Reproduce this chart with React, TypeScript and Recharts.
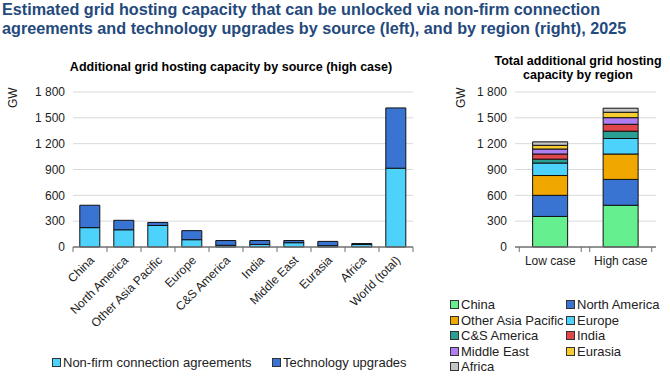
import React from "react";
import { BarChart, Bar, XAxis, YAxis, CartesianGrid } from "recharts";

// Left panel: high case by source
const sourceCategories = [
  "China",
  "North America",
  "Other Asia Pacific",
  "Europe",
  "C&S America",
  "India",
  "Middle East",
  "Eurasia",
  "Africa",
  "World (total)",
];
const nonFirm = [225, 200, 250, 85, 20, 30, 50, 15, 30, 915];
const techUpgrades = [260, 110, 35, 105, 55, 45, 25, 50, 10, 700];

// Right panel: totals by region
const cases = ["Low case", "High case"];
const regions = [
  "China",
  "North America",
  "Other Asia Pacific",
  "Europe",
  "C&S America",
  "India",
  "Middle East",
  "Eurasia",
  "Africa",
];
const lowCase = [355, 245, 230, 145, 45, 60, 58, 43, 40];
const highCase = [485, 300, 295, 180, 85, 80, 77, 63, 47];

const yTicks = [0, 300, 600, 900, 1200, 1500, 1800];

const NF_COLOR = "#4dd2fb";
const TU_COLOR = "#3a74d2";
const regionColors = [
  "#66ef8f",
  "#3a74d2",
  "#f0a800",
  "#4dd2fb",
  "#2a9f93",
  "#e0464a",
  "#b07ef0",
  "#f7cc2e",
  "#c4c4c4",
];

const FONT = "'Liberation Sans', Arial, sans-serif";
const AXIS = "#6f6f6f";

const sourceData = sourceCategories.map((name, i) => ({
  name,
  nonFirm: nonFirm[i],
  tech: techUpgrades[i],
}));

const caseData = cases.map((name, i) => {
  const row: Record<string, string | number> = { name };
  const vals = i === 0 ? lowCase : highCase;
  regions.forEach((r, j) => (row[r] = vals[j]));
  return row;
});

const fmt = (v: number) => (v >= 1000 ? `${Math.floor(v / 1000)} ${String(v % 1000).padStart(3, "0")}` : `${v}`);

const SourceTick = (props: any) => {
  const { x, y, payload, index } = props;
  const half = 17;
  return (
    <g>
      <line x1={x - half} x2={x - half} y1={y - 8} y2={y - 3} stroke={AXIS} />
      {index === sourceCategories.length - 1 && (
        <line x1={x + half} x2={x + half} y1={y - 8} y2={y - 3} stroke={AXIS} />
      )}
      <text
        x={x + 5}
        y={y + 6}
        textAnchor="end"
        fontSize={12}
        fill="#222"
        fontFamily={FONT}
        transform={`rotate(-45 ${x + 5} ${y + 6})`}
      >
        {payload.value}
      </text>
    </g>
  );
};

const CaseTick = (props: any) => {
  const { x, y, payload } = props;
  const half = 31;
  return (
    <g>
      <line x1={x - half} x2={x - half} y1={y - 8} y2={y - 3} stroke={AXIS} />
      <line x1={x + half} x2={x + half} y1={y - 8} y2={y - 3} stroke={AXIS} />
      <text x={x} y={y + 10} textAnchor="middle" fontSize={12} fill="#222" fontFamily={FONT}>
        {payload.value}
      </text>
    </g>
  );
};

const Swatch = ({ color }: { color: string }) => (
  <span
    style={{
      display: "inline-block",
      width: 7,
      height: 7,
      background: color,
      border: "1px solid #333",
      marginRight: 2,
      verticalAlign: "middle",
      position: "relative",
      top: -1,
    }}
  />
);

const legendItem = (label: string, color: string, left: number, top: number) => (
  <div
    key={label}
    style={{ position: "absolute", left, top, fontSize: 13, color: "#222", whiteSpace: "nowrap", lineHeight: "15px" }}
  >
    <Swatch color={color} />
    {label}
  </div>
);

export default function App() {
  return (
    <div
      style={{
        position: "absolute",
        left: 0,
        top: 0,
        width: 670,
        height: 377,
        background: "#fff",
        fontFamily: FONT,
        overflow: "hidden",
      }}
    >
      <div
        style={{
          position: "absolute",
          left: 2,
          top: 0,
          fontSize: 16.2,
          fontWeight: "bold",
          color: "#24497c",
          lineHeight: "19px",
          whiteSpace: "nowrap",
        }}
      >
        Estimated grid hosting capacity that can be unlocked via non-firm connection
        <br />
        agreements and technology upgrades by source (left), and by region (right), 2025
      </div>

      <div
        style={{
          position: "absolute",
          left: 0,
          width: 462,
          top: 60,
          textAlign: "center",
          fontSize: 12.5,
          fontWeight: "bold",
          color: "#000",
          lineHeight: "15px",
          whiteSpace: "nowrap",
        }}
      >
        Additional grid hosting capacity by source (high case)
      </div>

      <div
        style={{
          position: "absolute",
          left: 478,
          width: 200,
          top: 54,
          textAlign: "center",
          fontSize: 12.5,
          fontWeight: "bold",
          color: "#000",
          lineHeight: "14px",
          whiteSpace: "nowrap",
        }}
      >
        Total additional grid hosting
        <br />
        capacity by region
      </div>

      <div style={{ position: "absolute", left: 0, top: 0 }}>
        <BarChart
          width={420}
          height={377}
          data={sourceData}
          margin={{ top: 92, right: 7, left: 0, bottom: 0 }}
          barCategoryGap="20%"
        >
          <CartesianGrid vertical={false} stroke="#d9d9d9" horizontalValues={[300, 600, 900, 1200, 1500, 1800]} />
          <XAxis
            dataKey="name"
            interval={0}
            tickLine={false}
            axisLine={{ stroke: AXIS, strokeWidth: 1.5 }}
            tick={<SourceTick />}
            height={130}
          />
          <YAxis
            width={73}
            domain={[0, 1800]}
            ticks={yTicks}
            tickFormatter={fmt}
            axisLine={false}
            tickLine={false}
            tick={{ fill: "#222", fontSize: 12, fontFamily: FONT }}
            label={{ value: "GW", angle: -90, position: "insideTopLeft", offset: 0, dx: 8, dy: 16, fontSize: 12, fill: "#222" }}
          />
          <Bar dataKey="nonFirm" stackId="a" fill={NF_COLOR} stroke="#111" strokeWidth={1} isAnimationActive={false} />
          <Bar dataKey="tech" stackId="a" fill={TU_COLOR} stroke="#111" strokeWidth={1} isAnimationActive={false} />
        </BarChart>
      </div>

      <div style={{ position: "absolute", left: 420, top: 0 }}>
        <BarChart
          width={250}
          height={377}
          data={caseData}
          margin={{ top: 92, right: 14, left: 0, bottom: 0 }}
          barCategoryGap="25%"
        >
          <CartesianGrid vertical={false} stroke="#d9d9d9" horizontalValues={[300, 600, 900, 1200, 1500, 1800]} />
          <XAxis
            dataKey="name"
            interval={0}
            tickLine={false}
            axisLine={{ stroke: AXIS, strokeWidth: 1.5 }}
            tick={<CaseTick />}
            height={130}
          />
          <YAxis
            width={95}
            domain={[0, 1800]}
            ticks={yTicks}
            tickFormatter={fmt}
            axisLine={false}
            tickLine={false}
            tick={{ fill: "#222", fontSize: 12, fontFamily: FONT }}
            label={{ value: "GW", angle: -90, position: "insideTopLeft", offset: 0, dx: 36, dy: 16, fontSize: 12, fill: "#222" }}
          />
          {regions.map((r, j) => (
            <Bar
              key={r}
              dataKey={r}
              stackId="r"
              fill={regionColors[j]}
              stroke="#111"
              strokeWidth={1}
              isAnimationActive={false}
            />
          ))}
        </BarChart>
      </div>

      {legendItem("Non-firm connection agreements", NF_COLOR, 52, 355)}
      {legendItem("Technology upgrades", TU_COLOR, 272, 355)}

      {regions.map((r, j) =>
        legendItem(r, regionColors[j], j % 2 === 0 ? 450 : 566, 297 + Math.floor(j / 2) * 15.5)
      )}
    </div>
  );
}
